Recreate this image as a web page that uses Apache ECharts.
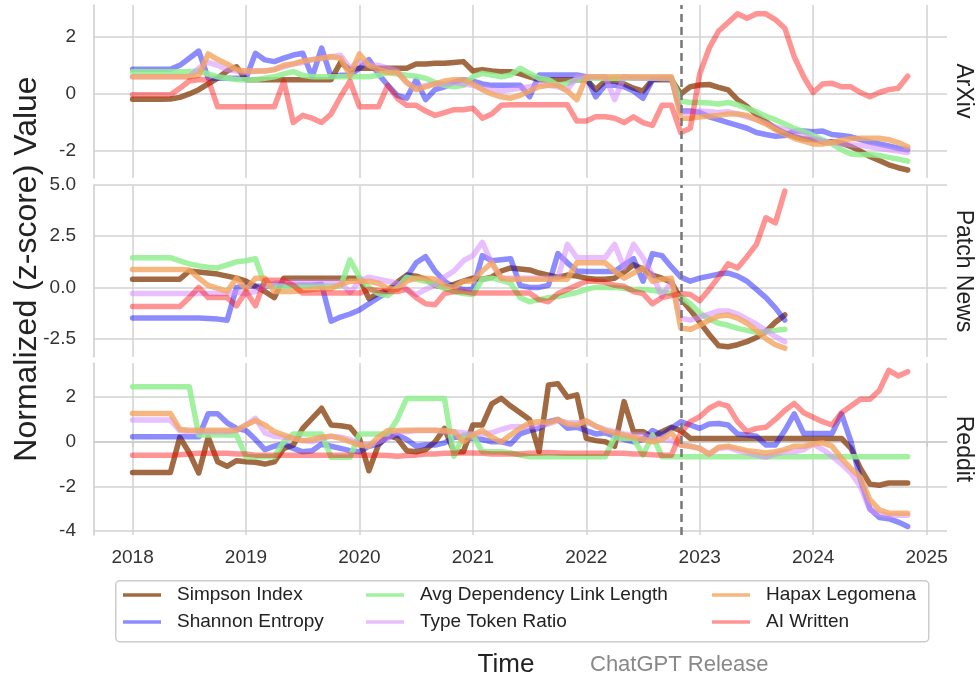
<!DOCTYPE html>
<html>
<head>
<meta charset="utf-8">
<title>Normalized metrics over time</title>
<script src="https://cdn.jsdelivr.net/npm/echarts@6/dist/echarts.min.js"></script>
<style>
  html, body { margin: 0; padding: 0; background: #fff; }
  #chart { width: 979px; height: 680px; }
</style>
</head>
<body>
<div id="chart"></div>
<script>
// one value per month, starting Jan 2018
const startYear = 2018;
const chatgptRelease = 2022.835;

const metricNames = ['Simpson Index', 'Shannon Entropy', 'Avg Dependency Link Length', 'Type Token Ratio', 'Hapax Legomena', 'AI Written'];
const metricColors = ['rgba(139,69,19,0.8)', 'rgba(0,0,255,0.45)', 'rgba(144,238,144,0.85)', 'rgba(214,140,255,0.55)', 'rgba(244,164,96,0.8)', 'rgba(255,0,0,0.42)'];
const panelNames = ['ArXiv', 'Patch News', 'Reddit'];

// ArXiv (Jan 2018 - Nov 2024)
const arxivSimpson = [-0.19,-0.19,-0.19,-0.19,-0.18,-0.12,0.0,0.15,0.35,0.55,0.8,0.95,
  0.5,0.5,0.5,0.5,0.5,0.5,0.5,0.5,0.5,0.5,1.1,0.85,
  0.9,0.9,0.9,0.9,0.9,0.9,1.05,1.05,1.07,1.07,1.1,1.13,
  0.8,0.85,0.8,0.78,0.78,0.7,0.6,0.5,0.5,0.5,0.5,0.5,
  0.5,0.15,0.45,0.45,0.35,0.2,0.1,0.5,0.5,0.5,0.0,0.25,
  0.31,0.33,0.23,0.14,-0.2,-0.44,-0.73,-0.97,-1.2,-1.37,-1.49,-1.58,
  -1.6,-1.67,-1.67,-1.72,-1.84,-2.0,-2.19,-2.33,-2.48,-2.58,-2.66];
const arxivShannon = [0.86,0.86,0.86,0.86,0.86,1.0,1.25,1.5,0.55,0.55,0.55,0.55,
  0.55,1.42,1.19,1.13,1.25,1.36,1.42,0.6,1.6,0.6,0.65,0.65,
  0.9,1.2,0.7,0.3,-0.05,-0.15,0.5,-0.2,0.15,0.25,0.4,0.5,
  0.45,0.35,0.3,0.3,0.3,0.3,-0.1,0.66,0.66,0.66,0.66,0.66,
  0.6,-0.1,0.3,0.3,0.25,0.1,-0.15,0.5,0.55,0.55,-0.6,-0.6,
  -0.65,-0.8,-0.9,-1.0,-1.1,-1.2,-1.35,-1.42,-1.48,-1.45,-1.3,-1.3,
  -1.32,-1.3,-1.42,-1.45,-1.5,-1.6,-1.68,-1.75,-1.82,-1.9,-1.95];
const arxivDependency = [0.78,0.78,0.78,0.78,0.78,0.78,0.78,0.8,0.7,0.6,0.55,0.5,
  0.5,0.5,0.55,0.6,0.7,0.78,0.65,0.6,0.6,0.6,0.6,0.6,
  0.6,0.6,0.65,0.75,0.7,0.65,0.62,0.55,0.4,0.3,0.25,0.3,
  0.6,0.72,0.66,0.6,0.66,0.9,0.72,0.55,0.5,0.3,0.37,0.5,
  0.55,0.55,0.55,0.55,0.55,0.55,0.55,0.55,0.55,0.55,-0.25,-0.3,
  -0.3,-0.32,-0.35,-0.3,-0.38,-0.5,-0.62,-0.78,-0.9,-1.05,-1.2,-1.32,
  -1.45,-1.6,-1.75,-1.95,-2.1,-2.13,-2.12,-2.15,-2.22,-2.28,-2.35];
const arxivTTR = [0.6,0.6,0.6,0.6,0.6,0.6,0.6,0.9,1.1,1.0,0.85,0.8,
  0.75,0.8,0.8,0.85,0.95,1.05,1.1,1.2,1.25,1.3,1.35,0.9,
  1.15,1.0,1.0,0.9,0.8,0.4,0.2,0.3,0.35,0.35,0.4,0.35,
  0.3,0.2,0.15,0.1,0.15,0.2,0.25,0.35,0.3,0.25,0.15,0.6,
  0.6,0.6,0.6,-0.2,0.6,0.55,0.55,0.55,0.55,0.55,-0.65,-0.65,
  -0.6,-0.62,-0.65,-0.62,-0.7,-0.8,-0.9,-1.02,-1.15,-1.25,-1.35,-1.45,
  -1.55,-1.65,-1.7,-1.75,-1.78,-1.8,-1.85,-1.9,-1.95,-2.0,-2.05];
const arxivHapax = [0.6,0.6,0.6,0.6,0.6,0.6,0.6,0.65,1.4,1.2,1.05,0.85,
  0.8,0.8,0.8,0.85,1.0,1.05,1.15,1.2,1.25,1.3,1.25,0.65,
  1.4,1.0,0.85,0.75,0.75,0.4,0.15,0.25,0.35,0.45,0.5,0.5,
  0.35,0.15,0.0,-0.1,-0.15,-0.05,0.1,0.25,0.3,0.3,0.1,-0.2,
  0.6,0.6,0.6,0.6,0.6,0.6,0.6,0.6,0.6,0.6,-0.85,-0.85,
  -0.8,-0.78,-0.75,-0.7,-0.7,-0.75,-0.9,-1.05,-1.25,-1.4,-1.55,-1.65,
  -1.75,-1.75,-1.7,-1.62,-1.57,-1.55,-1.55,-1.55,-1.6,-1.7,-1.85];
const arxivAI = [-0.03,-0.03,-0.03,-0.03,-0.03,0.2,0.45,0.5,0.5,-0.45,-0.45,-0.45,
  -0.45,-0.45,-0.45,-0.45,0.45,-1.0,-0.75,-0.85,-1.0,-0.7,-0.1,0.45,
  -0.45,-0.45,-0.45,0.3,-0.15,-0.4,-0.4,-0.6,-0.75,-0.65,-0.55,-0.55,
  -0.5,-0.85,-0.7,-0.4,-0.38,-0.38,-0.38,-0.38,-0.38,-0.38,-0.38,-0.95,
  -0.95,-0.8,-0.8,-0.85,-1.0,-0.8,-1.0,-1.1,-0.4,-0.4,-1.35,-1.2,
  0.7,1.6,2.2,2.5,2.8,2.65,2.8,2.8,2.6,2.3,1.3,0.6,
  0.05,0.35,0.37,0.25,0.25,0.05,-0.1,0.05,0.15,0.2,0.62];

// Patch News (Jan 2018 - Oct 2023)
const patchSimpson = [0.4,0.4,0.4,0.4,0.4,0.4,0.8,0.75,0.7,0.65,0.55,0.45,
  0.3,0.05,-0.2,-0.5,0.45,0.45,0.45,0.45,0.45,0.45,0.45,0.45,
  0.45,-0.55,-0.3,-0.15,0.25,0.6,0.55,0.4,0.1,0.0,0.15,0.3,
  0.45,0.4,0.5,0.8,0.95,0.9,0.85,0.7,0.6,0.5,0.6,0.55,
  0.45,0.4,0.4,0.45,0.75,1.1,0.9,0.6,0.45,0.25,-0.55,-1.1,
  -1.7,-2.3,-2.85,-2.9,-2.8,-2.65,-2.45,-2.15,-1.7,-1.35];
const patchShannon = [-1.5,-1.5,-1.5,-1.5,-1.5,-1.5,-1.5,-1.5,-1.52,-1.55,-1.6,0.0,
  0.05,0.05,0.05,0.1,0.1,0.1,0.1,0.1,0.15,-1.65,-1.45,-1.3,
  -1.1,-0.8,-0.5,-0.2,0.1,0.5,1.2,1.5,0.8,0.3,0.0,-0.1,
  -0.1,1.55,1.3,1.35,1.4,0.1,0.0,0.0,0.1,1.65,1.2,0.8,
  0.78,0.78,0.78,0.78,1.1,1.4,0.3,1.65,1.55,1.0,0.5,0.3,
  0.45,0.55,0.65,0.7,0.55,0.3,-0.1,-0.5,-1.0,-1.6];
const patchDependency = [1.45,1.45,1.45,1.45,1.45,1.3,1.15,1.05,0.98,0.95,1.1,1.25,
  1.3,1.4,0.1,0.05,0.05,0.05,0.05,0.05,0.05,0.05,0.05,1.35,
  0.5,0.0,-0.3,-0.4,0.0,0.5,0.4,0.3,0.15,-0.05,-0.2,-0.3,
  -0.35,0.4,0.45,0.35,0.2,-0.5,-0.7,-0.6,-0.5,-0.45,-0.35,-0.25,
  -0.1,0.0,0.0,0.0,-0.05,-0.1,-0.1,-0.15,-0.2,-0.3,-0.45,-0.8,
  -1.25,-1.55,-1.75,-1.85,-2.0,-2.1,-2.2,-2.15,-2.1,-2.05];
const patchTTR = [-0.3,-0.3,-0.3,-0.3,-0.3,-0.3,-0.3,-0.3,-0.3,-0.3,-0.3,-0.25,
  -0.3,-0.2,0.05,0.2,0.25,0.25,0.25,0.25,0.25,0.25,0.25,-0.25,
  0.3,0.5,0.4,0.3,0.2,-0.1,-0.35,-0.1,0.1,0.5,0.8,1.3,
  1.55,2.2,1.2,0.45,0.45,0.45,0.45,0.45,0.45,0.45,2.1,1.45,
  1.45,1.45,1.45,2.1,0.95,2.1,1.44,0.6,-0.44,0.3,-1.5,-1.6,
  -1.45,-1.3,-1.15,-1.15,-1.3,-1.55,-1.8,-2.1,-2.4,-2.65];
const patchHapax = [0.87,0.87,0.87,0.87,0.87,0.87,0.85,0.45,0.1,-0.05,-0.2,0.45,
  -0.1,0.45,0.45,-0.2,-0.2,-0.2,-0.15,-0.1,-0.05,-0.05,0.15,0.3,
  0.3,0.3,0.2,-0.05,-0.1,0.3,0.45,0.45,0.4,0.1,0.0,0.3,
  0.3,0.8,1.2,0.45,0.4,0.4,0.4,0.4,0.4,0.4,0.4,1.2,
  1.2,1.2,1.2,0.8,0.45,0.7,0.95,0.3,0.4,0.45,-2.0,-2.05,
  -1.85,-1.6,-1.4,-1.35,-1.5,-1.75,-2.1,-2.5,-2.8,-2.97];
const patchAI = [-0.93,-0.93,-0.93,-0.93,-0.93,-0.93,-0.5,0.0,-0.5,-0.5,-0.5,-0.9,
  -0.2,-0.9,0.35,0.35,0.35,0.1,-0.28,-0.28,-0.28,-0.28,-0.28,-0.28,
  -0.28,-0.1,-0.15,-0.2,-0.2,-0.1,-0.5,-0.8,-0.85,-0.3,-0.2,-0.2,
  -0.28,-0.28,-0.28,-0.28,-0.28,-0.28,-0.28,-0.6,-0.7,-0.3,-0.1,0.1,
  0.3,0.3,0.25,0.1,0.05,-0.2,-0.3,-0.8,-0.5,-0.4,-0.3,-0.35,
  -0.65,-0.1,0.5,1.15,0.95,1.5,2.1,3.4,3.15,4.7];

// Reddit (Jan 2018 - Nov 2024)
const redditSimpson = [-1.38,-1.38,-1.38,-1.38,-1.38,0.2,-0.5,-1.4,0.2,-0.9,-1.1,-0.85,
  -0.9,-0.92,-1.0,-0.9,-0.3,-0.15,0.6,1.05,1.5,0.75,0.72,0.65,
  0.15,-1.3,-0.15,0.3,0.15,-0.4,-0.45,-0.35,0.0,0.6,-0.45,-0.45,
  0.75,0.75,1.7,1.95,1.6,1.3,1.0,-0.45,2.55,2.6,2.0,2.1,
  0.15,0.05,0.0,-0.2,1.8,0.45,0.45,0.2,0.45,0.65,0.5,0.15,
  0.15,0.15,0.15,0.15,0.15,0.15,0.15,0.15,0.15,0.15,0.15,0.15,
  0.15,0.15,0.15,0.15,-0.3,-1.2,-1.9,-1.95,-1.85,-1.85,-1.85];
const redditShannon = [0.22,0.22,0.22,0.22,0.22,0.22,0.22,0.22,1.25,1.25,0.85,0.6,
  0.5,0.1,-0.35,-0.2,-0.1,-0.3,-0.45,-0.4,-0.1,-0.2,-0.3,-0.4,
  -0.45,-0.2,-0.1,0.2,0.3,0.1,-0.2,-0.15,-0.15,-0.05,0.2,0.2,
  0.15,0.1,0.0,0.0,-0.1,0.35,0.5,0.6,0.9,1.0,0.6,0.65,
  0.5,0.35,0.4,0.25,0.1,0.0,0.1,0.5,0.3,0.6,0.9,0.75,
  0.6,0.8,0.82,0.75,0.35,0.3,0.25,-0.15,-0.15,0.5,1.25,0.37,
  0.37,0.37,0.37,1.25,0.0,-1.7,-3.0,-3.4,-3.45,-3.6,-3.8];
const redditDependency = [2.47,2.47,2.47,2.47,2.47,2.47,2.47,0.3,0.3,0.3,0.3,0.3,
  -0.67,-0.67,-0.67,-0.67,0.0,0.35,0.35,0.35,0.35,-0.7,-0.7,-0.7,
  0.35,0.35,0.35,0.35,1.0,1.94,1.94,1.94,1.94,1.94,-0.65,0.3,
  0.3,-0.45,-0.45,-0.45,-0.5,-0.6,-0.67,-0.67,-0.67,-0.67,-0.67,-0.67,
  -0.67,-0.67,-0.67,0.2,0.15,0.15,-0.6,0.3,-0.67,-0.67,-0.67,-0.67,
  -0.67,-0.67,-0.67,-0.67,-0.67,-0.67,-0.67,-0.67,-0.67,-0.67,-0.67,-0.67,
  -0.67,-0.67,-0.67,-0.67,-0.67,-0.67,-0.67,-0.67,-0.67,-0.67,-0.67];
const redditTTR = [0.97,0.97,0.97,0.97,0.97,0.5,0.45,0.45,0.45,0.45,0.45,0.5,
  0.75,1.05,0.4,0.25,0.2,0.15,0.05,0.0,0.15,0.25,0.2,0.1,
  -0.1,-0.15,0.0,0.15,0.45,0.45,0.5,0.5,0.5,0.45,0.45,0.4,
  0.35,0.35,0.4,0.55,0.67,0.67,0.67,0.7,0.8,0.95,0.85,0.85,
  0.9,0.7,0.55,0.45,0.35,0.3,0.3,0.15,0.1,0.05,-0.15,-0.2,
  -0.3,-0.55,-0.3,-0.25,-0.4,-0.5,-0.6,-0.7,-0.55,-0.45,-0.45,-0.35,
  -0.1,-0.35,-0.65,-1.0,-1.4,-2.0,-3.05,-3.25,-3.3,-3.3,-3.3];
const redditHapax = [1.27,1.27,1.27,1.27,1.27,0.55,0.52,0.52,0.52,0.52,0.52,0.52,
  0.75,0.95,0.75,0.45,0.3,0.15,0.05,0.1,0.2,0.25,0.15,0.0,
  -0.15,-0.2,0.2,0.5,0.5,0.52,0.52,0.52,0.52,0.5,0.45,0.0,
  0.3,0.5,0.2,0.0,0.3,0.6,0.85,0.9,0.85,1.0,0.8,0.75,
  0.95,0.7,0.5,0.4,0.3,0.2,0.1,0.0,0.1,0.4,-0.15,-0.2,
  -0.3,-0.55,-0.25,-0.2,-0.3,-0.4,-0.45,-0.5,-0.45,-0.35,-0.2,-0.2,
  -0.1,-0.05,-0.2,-0.75,-1.2,-1.6,-2.6,-3.05,-3.2,-3.2,-3.2];
const redditAI = [-0.6,-0.6,-0.6,-0.6,-0.6,-0.58,-0.55,-0.52,-0.52,-0.52,-0.52,-0.55,
  -0.55,-0.6,-0.6,-0.6,-0.6,-0.6,-0.6,-0.6,-0.6,-0.6,-0.6,-0.6,
  -0.6,-0.6,-0.6,-0.62,-0.65,-0.62,-0.6,-0.55,-0.55,-0.52,-0.52,-0.5,
  -0.5,-0.52,-0.55,-0.55,-0.55,-0.55,-0.52,-0.5,-0.48,-0.5,-0.52,-0.52,
  -0.52,-0.52,-0.52,-0.52,-0.52,-0.55,-0.55,-0.58,-0.6,-0.6,0.4,0.9,
  1.12,1.5,1.72,1.6,0.9,0.45,0.6,0.65,1.0,1.4,1.72,1.3,
  1.1,0.9,0.75,1.3,1.6,1.9,1.9,2.3,3.2,2.95,3.14];

const panelData = [
  [arxivSimpson, arxivShannon, arxivDependency, arxivTTR, arxivHapax, arxivAI],
  [patchSimpson, patchShannon, patchDependency, patchTTR, patchHapax, patchAI],
  [redditSimpson, redditShannon, redditDependency, redditTTR, redditHapax, redditAI]
];

// y ranges per panel and tick step
const panelYMin = [-2.94, -3.4, -4.18];
const panelYMax = [3.11, 5.0, 3.53];
const panelYStep = [2, 2.5, 2];

const font = 'Liberation Sans, Arial, Helvetica, sans-serif';
const gridColor = '#d2d2d2';

const toPoints = (values) => values.map((v, i) => [startYear + i / 12, v]);

const grids = [
  { left: 94, right: 32, top: 5, height: 173 },
  { left: 94, right: 32, top: 185, height: 172 },
  { left: 94, right: 32, top: 363, height: 172 }
];

const xAxes = grids.map((g, p) => {
  const isBottom = p === 2;
  return {
    type: 'value', gridIndex: p, min: 2017.66, max: 2025.18,
    splitNumber: 7, minInterval: 1, maxInterval: 1,
    axisLine: { show: isBottom, lineStyle: { color: '#cccccc', width: 1.5 } },
    axisTick: { show: isBottom, length: 5, lineStyle: { color: '#cccccc', width: 1.5 } },
    axisLabel: {
      show: isBottom, showMinLabel: false, showMaxLabel: false,
      formatter: (v) => Math.abs(v - Math.round(v)) < 1e-6 ? String(Math.round(v)) : '',
      fontSize: 19, color: '#333', fontFamily: font, margin: 13
    },
    splitLine: { show: true, showMinLine: false, showMaxLine: false, lineStyle: { color: gridColor, width: 1.5 } }
  };
});

const yAxes = grids.map((g, p) => ({
  type: 'value', gridIndex: p,
  min: panelYMin[p], max: panelYMax[p],
  splitNumber: 3, minInterval: panelYStep[p], maxInterval: panelYStep[p],
  axisLine: { show: true, lineStyle: { color: '#cccccc', width: 1.5 } },
  axisTick: { show: false },
  axisLabel: {
    showMinLabel: false, showMaxLabel: p === 1,
    formatter: (v) => p === 1 ? v.toFixed(1) : String(v),
    fontSize: 19, color: '#333', fontFamily: font, margin: 18
  },
  splitLine: { show: true, showMinLine: false, showMaxLine: p === 1, lineStyle: { color: gridColor, width: 1.5 } }
}));

const series = [];
panelData.forEach((metrics, p) => {
  metrics.forEach((values, k) => {
    const s = {
      name: metricNames[k], type: 'line',
      xAxisIndex: p, yAxisIndex: p,
      data: toPoints(values),
      showSymbol: false, symbol: 'none',
      color: metricColors[k],
      lineStyle: { width: 5.5, color: metricColors[k], cap: 'round', join: 'round' },
      emphasis: { disabled: true },
      z: 2 + k
    };
    if (k === metrics.length - 1) {
      s.markLine = {
        silent: true, symbol: 'none', z: 10,
        label: { show: false },
        lineStyle: { color: '#777', type: [8, 5], width: 2.5 },
        data: [{ xAxis: chatgptRelease }]
      };
    }
    series.push(s);
  });
});

const legendCols = [[0, 1], [2, 3], [4, 5]];
const legendLeft = [123, 366, 712];
const legends = legendCols.map((cols, c) => ({
  orient: 'vertical', left: legendLeft[c], top: 584, padding: 0,
  itemWidth: 38, itemHeight: 3.5, itemGap: 5, icon: 'rect',
  selectedMode: false,
  data: cols.map((k) => metricNames[k]),
  textStyle: { fontSize: 19, color: '#222', fontFamily: font, lineHeight: 22, padding: [0, 0, 0, 11] }
}));

const panelLabelY = [91, 271, 449];

const chart = echarts.init(document.getElementById('chart'));
chart.setOption({
  animation: false,
  backgroundColor: '#ffffff',
  grid: grids,
  xAxis: xAxes,
  yAxis: yAxes,
  legend: legends,
  series: series,
  graphic: [
    { type: 'rect', left: 115, top: 580, shape: { width: 813, height: 61, r: 4 },
      style: { fill: '#fff', stroke: '#cccccc', lineWidth: 1.5 }, z: -1 },
    { type: 'text', x: 27, y: 269, rotation: Math.PI / 2,
      style: { text: 'Normalized (z-score) Value', font: '32px ' + font, fill: '#222', align: 'center', verticalAlign: 'middle' } },
    ...panelNames.map((name, p) => ({
      type: 'text', x: 963, y: panelLabelY[p], rotation: -Math.PI / 2,
      style: { text: name, font: '23px ' + font, fill: '#222', align: 'center', verticalAlign: 'middle' }
    })),
    { type: 'text', x: 506, y: 665,
      style: { text: 'Time', font: '26px ' + font, fill: '#222', align: 'center', verticalAlign: 'middle' } },
    { type: 'text', x: 590, y: 665,
      style: { text: 'ChatGPT Release', font: '22px ' + font, fill: '#888', align: 'left', verticalAlign: 'middle' } }
  ]
});
</script>
</body>
</html>
